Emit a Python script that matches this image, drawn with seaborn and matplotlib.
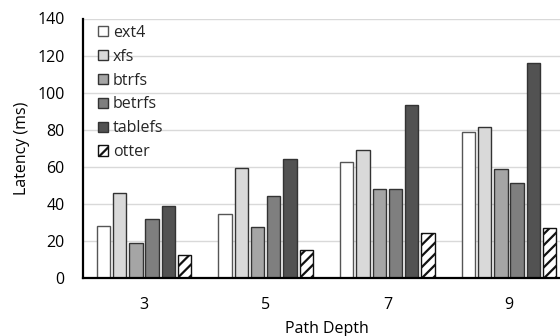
import matplotlib
matplotlib.use("Agg")
import matplotlib.pyplot as plt
import matplotlib.patches as mpatches
import seaborn as sns
import pandas as pd

# Latency per file system for each path depth
depths = ["3", "5", "7", "9"]
systems = ["ext4", "xfs", "btrfs", "betrfs", "tablefs", "otter"]
ext4 = [28, 34.5, 62.5, 78.5]
xfs = [45.8, 59.2, 69, 81.7]
btrfs = [18.7, 27.5, 47.8, 58.7]
betrfs = [32.1, 44.3, 47.8, 51.3]
tablefs = [39.1, 64.1, 93.5, 115.8]
otter = [12.2, 15.1, 24.4, 26.9]
yticks = [0, 20, 40, 60, 80, 100, 120, 140]

series = {"ext4": ext4, "xfs": xfs, "btrfs": btrfs,
          "betrfs": betrfs, "tablefs": tablefs, "otter": otter}
rows = []
for name in systems:
    for d, v in zip(depths, series[name]):
        rows.append({"depth": d, "system": name, "latency": v})
df = pd.DataFrame(rows)

sns.set_theme(style="white")
plt.rcParams["font.family"] = ["Open Sans", "DejaVu Sans"]
plt.rcParams["hatch.linewidth"] = 1.6
plt.rcParams["hatch.color"] = "black"

FS = 11.5
colors = ["#ffffff", "#d9d9d9", "#a5a5a5", "#7f7f7f", "#525252", "#ffffff"]
edges = ["#555555", "#333333", "#333333", "#333333", "#333333", "#111111"]

fig = plt.figure(figsize=(5.6, 3.36), dpi=100)
ax = fig.add_axes([83.2 / 560, 1 - 278 / 336, 486.6 / 560, (278 - 18.5) / 336])

sns.barplot(data=df, x="depth", y="latency", hue="system", order=depths,
            hue_order=systems, palette=colors, width=0.8, gap=0.18,
            edgecolor="#333333", linewidth=1.0, ax=ax, legend=False,
            errorbar=None, zorder=3)

for cont, ec in zip(ax.containers, edges):
    for bar in cont:
        bar.set_edgecolor(ec)
for bar in ax.containers[5]:
    bar.set_hatch("///")

ax.set_ylim(0, 140)
ax.set_xlim(-0.5, 3.5)
ax.set_yticks(yticks)
ax.grid(axis="y", color="#d9d9d9", linewidth=1.0, zorder=0)
ax.set_axisbelow(True)
for s in ["top", "right"]:
    ax.spines[s].set_visible(False)
for s in ["left", "bottom"]:
    ax.spines[s].set_color("black")
    ax.spines[s].set_linewidth(1.6)
    ax.spines[s].set_zorder(5)

ax.tick_params(axis="both", length=0, labelsize=FS, colors="black")
ax.tick_params(axis="y", pad=13.5)
ax.tick_params(axis="x", pad=13.5)
ax.set_xlabel("Path Depth", fontsize=FS, labelpad=6, color="black")
ax.set_ylabel("Latency (ms)", fontsize=FS, labelpad=5, color="black")

leg_handles = []
for i, name in enumerate(systems):
    p = mpatches.Patch(facecolor=colors[i], edgecolor=edges[i], linewidth=1.0,
                       hatch="///" if name == "otter" else None)
    leg_handles.append(p)
leg = ax.legend(leg_handles, systems, loc="upper left",
                bbox_to_anchor=(0.030, 0.975), frameon=False, fontsize=FS,
                handlelength=0.63, handleheight=0.6, handletextpad=0.32,
                labelspacing=0.49, borderaxespad=0, borderpad=0)

fig.savefig("out.png", dpi=100)
